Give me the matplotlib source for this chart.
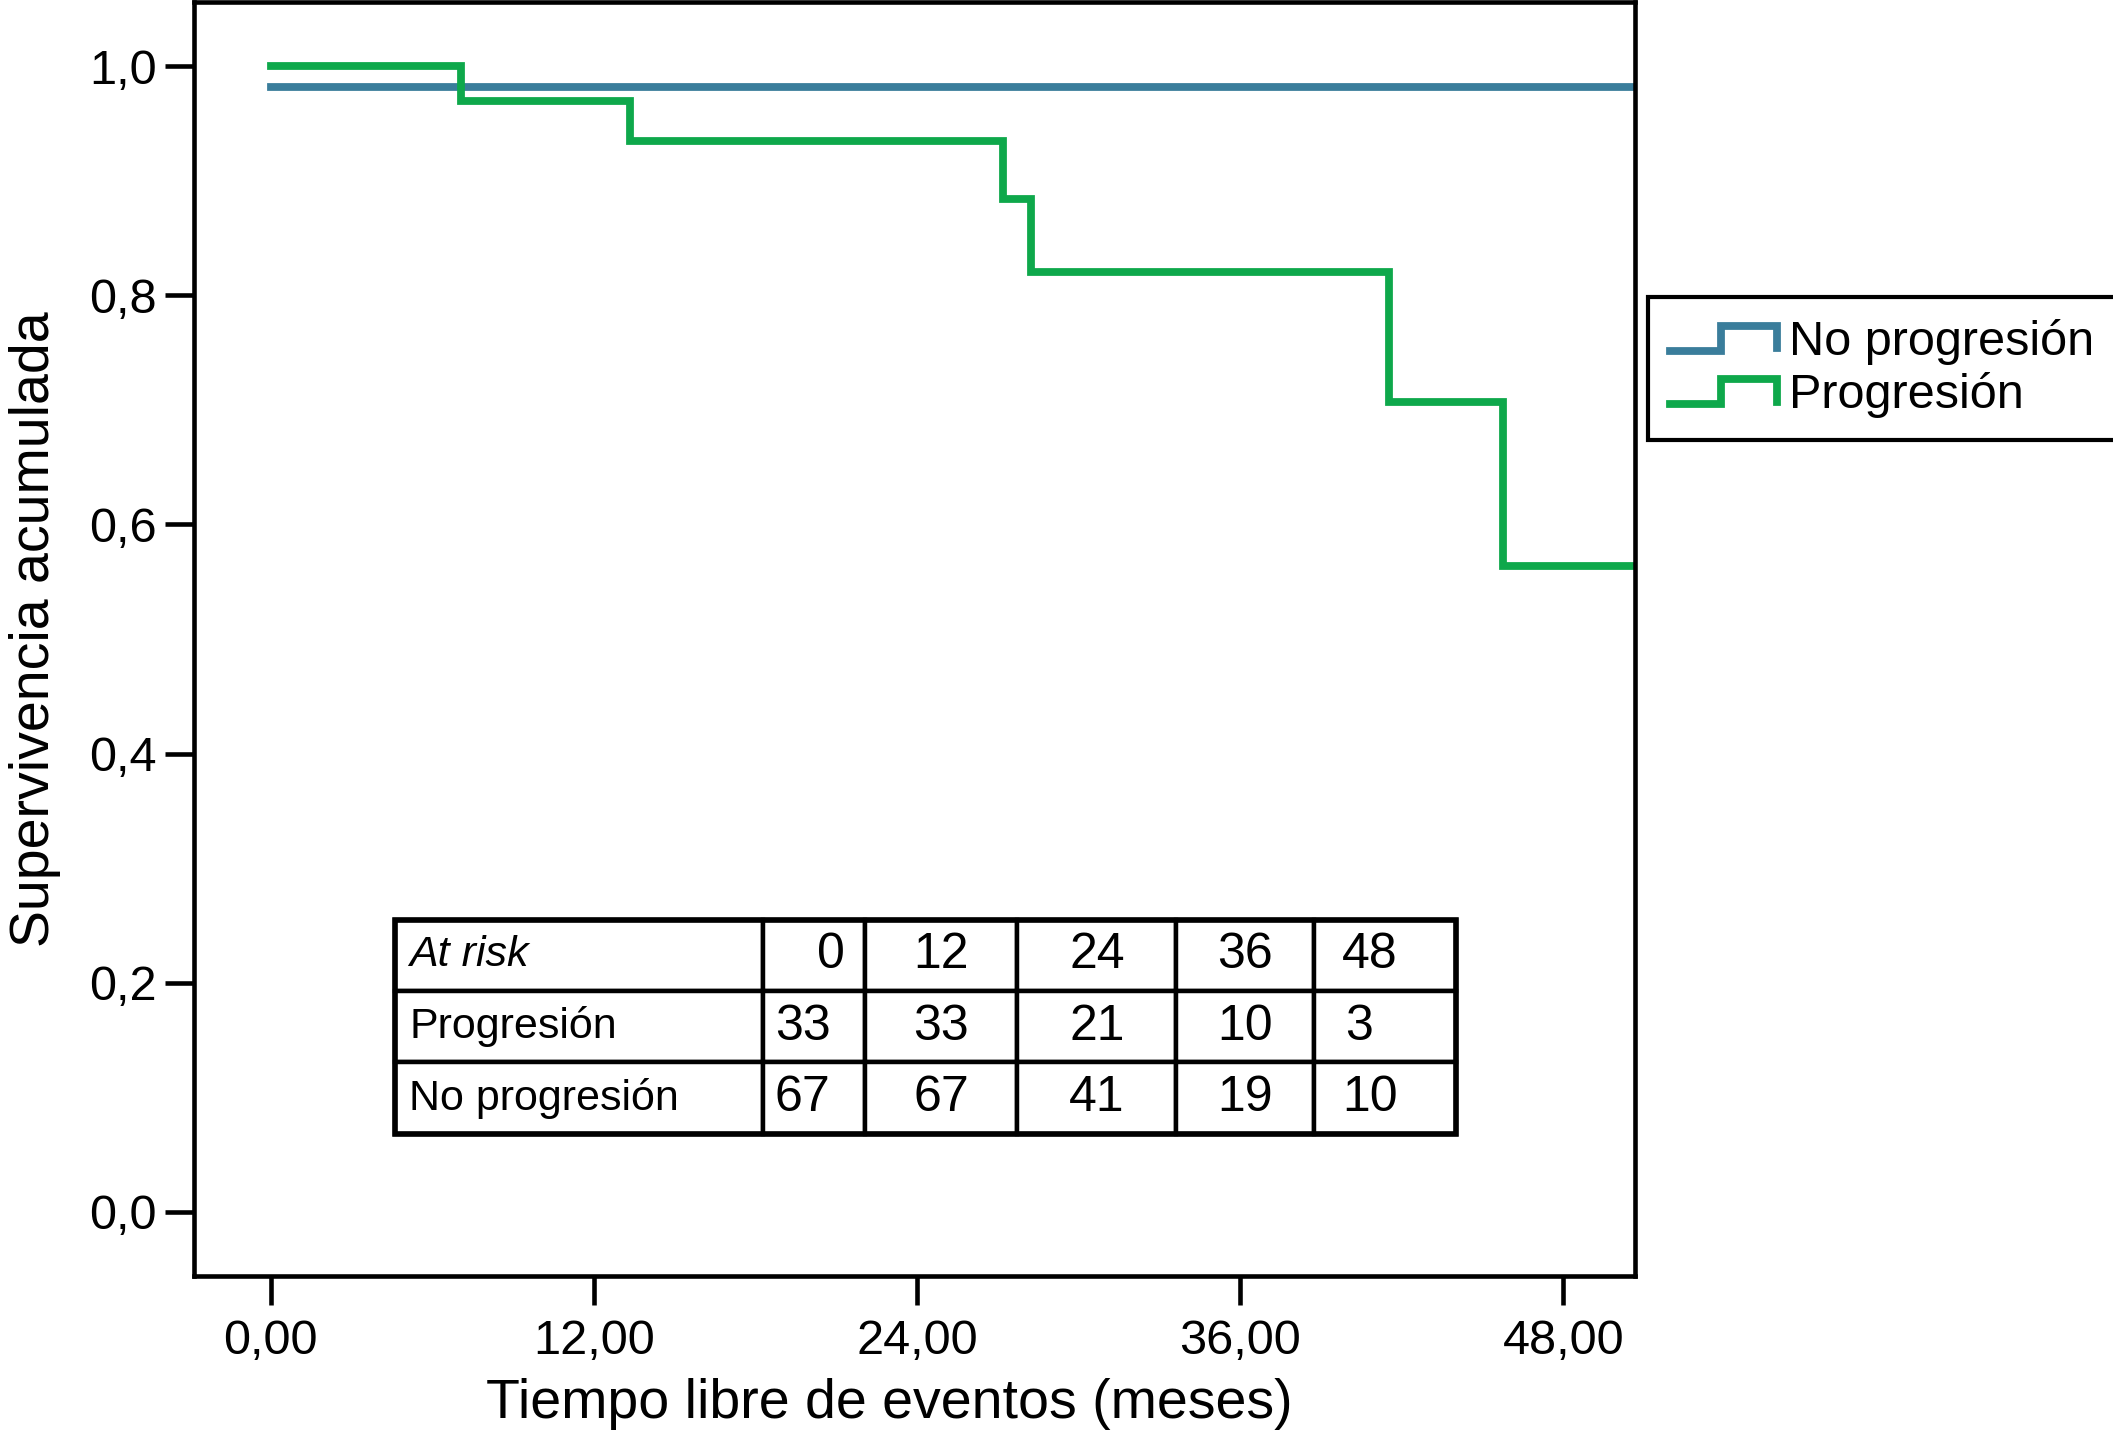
import matplotlib
matplotlib.use("Agg")
import matplotlib.pyplot as plt
import numpy as np
from matplotlib.legend_handler import HandlerBase
from matplotlib.lines import Line2D
from matplotlib.patches import Rectangle

plt.rcParams["font.family"] = ["Liberation Sans", "DejaVu Sans"]

# Kaplan-Meier steps (months, cumulative survival)
prog_t = [0.0, 7.06, 13.36, 27.18, 28.23, 41.54, 45.75, 51.0]
prog_s = [1.000, 0.970, 0.935, 0.884, 0.820, 0.707, 0.564, 0.564]
noprog_t = [0.0, 51.0]
noprog_s = [0.982, 0.982]

xticks = [0, 12, 24, 36, 48]
xticklabels = ["0,00", "12,00", "24,00", "36,00", "48,00"]
yticks = [0.0, 0.2, 0.4, 0.6, 0.8, 1.0]
yticklabels = ["0,0", "0,2", "0,4", "0,6", "0,8", "1,0"]

risk_header = ["At risk", "0", "12", "24", "36", "48"]
risk_prog = ["Progresión", "33", "33", "21", "10", "3"]
risk_noprog = ["No progresión", "67", "67", "41", "19", "10"]

blue = "#3A7D9B"
green = "#0EA84B"


class StepHandler(HandlerBase):
    def create_artists(self, legend, orig_handle, xdescent, ydescent,
                       width, height, fontsize, trans):
        xs = np.array([0, 0.48, 0.48, 1.0, 1.0]) * width - xdescent
        ys = np.array([0.12, 0.12, 0.85, 0.85, 0.2]) * height - ydescent
        ln = Line2D(xs, ys, color=orig_handle.get_color(),
                    lw=orig_handle.get_linewidth(), solid_joinstyle="miter")
        ln.set_transform(trans)
        return [ln]


fig = plt.figure(figsize=(21.13, 14.46), dpi=100)
ax = fig.add_axes([0.0918, 0.1176, 0.6818, 0.881])

l_np, = ax.step(noprog_t, noprog_s, where="post", color=blue, lw=5.6,
                label="No progresión", solid_joinstyle="miter")
l_p, = ax.step(prog_t, prog_s, where="post", color=green, lw=5.6,
               label="Progresión", solid_joinstyle="miter")

ax.set_xlim(-2.85, 50.65)
ax.set_ylim(-0.056, 1.056)
ax.set_xticks(xticks)
ax.set_xticklabels(xticklabels)
ax.set_yticks(yticks)
ax.set_yticklabels(yticklabels)
ax.tick_params(axis="both", labelsize=35, length=21, width=3.3, direction="out")
ax.tick_params(axis="x", pad=10)
ax.tick_params(axis="y", pad=6)
for sp in ax.spines.values():
    sp.set_linewidth(3.3)

ax.set_xlabel("Tiempo libre de eventos (meses)", fontsize=40, labelpad=10)
ax.set_ylabel("Supervivencia acumulada", fontsize=40, labelpad=20)
ax.xaxis.label.set_x(0.483)
ax.yaxis.label.set_y(0.508)

# at-risk table, placed in data units
tx0, tx1 = 4.60, 44.0
ty0, ty1 = 0.068, 0.255
col_w = np.array([13.67, 3.80, 5.66, 5.90, 5.11, 5.26])
(ax0, ay0) = ax.transLimits.transform((tx0, ty0))
(ax1, ay1) = ax.transLimits.transform((tx1, ty1))
tab = ax.table(cellText=[risk_header, risk_prog, risk_noprog],
               colWidths=list(col_w / col_w.sum()),
               cellLoc="center",
               bbox=[ax0, ay0, ax1 - ax0, ay1 - ay0])
tab.auto_set_font_size(False)
left_cells = {(1, 1): 0.12, (2, 1): 0.12, (1, 5): 0.22, (0, 5): 0.2, (2, 5): 0.2}
for (r, c), cell in tab.get_celld().items():
    cell.set_linewidth(3.2)
    cell.set_edgecolor("black")
    txt = cell.get_text()
    txt.set_fontsize(36 if c > 0 else 31)
    if c == 0:
        txt.set_ha("left")
        cell.PAD = 0.04
    if r == 0 and c == 0:
        txt.set_fontstyle("italic")
    if (r, c) == (0, 1):
        txt.set_ha("right")
        cell.PAD = 0.2
    if (r, c) in left_cells:
        txt.set_ha("left")
        cell.PAD = left_cells[(r, c)]
ax.add_patch(Rectangle((ax0, ay0), ax1 - ax0, ay1 - ay0, transform=ax.transAxes,
                       fill=False, lw=4.0, edgecolor="black", zorder=10))

leg = fig.legend(handles=[l_np, l_p], loc="center left",
                 bbox_to_anchor=(0.780, 0.745), fontsize=35,
                 handler_map={Line2D: StepHandler()},
                 handlelength=2.2, handletextpad=0.25, labelspacing=0.15,
                 borderpad=0.45, borderaxespad=0, fancybox=False,
                 framealpha=1, edgecolor="black")
leg.get_frame().set_linewidth(3.0)

fig.savefig("out.png", dpi=100)
